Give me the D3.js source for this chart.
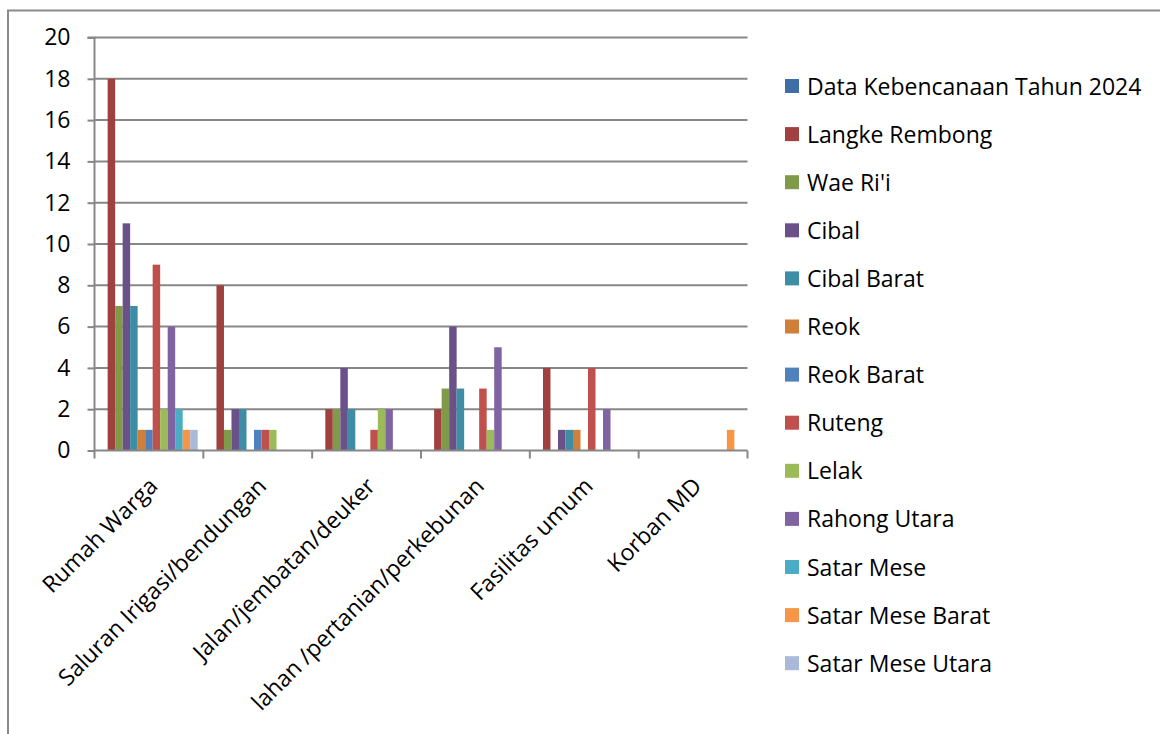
<!DOCTYPE html>
<html><head><meta charset="utf-8">
<script src="https://cdn.jsdelivr.net/npm/d3@7/dist/d3.min.js"></script>
<style>
html,body{margin:0;padding:0;background:#fff;overflow:hidden;}
text{font-family:"Open Sans","Noto Sans",sans-serif;fill:#000;}
</style></head><body>
<svg id="c" width="1160" height="734"></svg>
<script>
const categories = ["Rumah Warga","Saluran Irigasi/bendungan","Jalan/jembatan/deuker","lahan /pertanian/perkebunan","Fasilitas umum","Korban MD"];
const seriesNames = ["Data Kebencanaan Tahun 2024","Langke Rembong","Wae Ri'i","Cibal","Cibal Barat","Reok","Reok Barat","Ruteng","Lelak","Rahong Utara","Satar Mese","Satar Mese Barat","Satar Mese Utara"];
const seriesColors = ["#3F6EA6","#A0413F","#7F9B4A","#6A5189","#3D8EA5","#D07F3A","#4F81BD","#C0504D","#9BBB59","#8064A2","#4BACC6","#F79646","#A9B9D9"];
// values per series, in category order
const dataKebencanaan = [0,0,0,0,0,0];
const langkeRembong   = [18,8,2,2,4,0];
const waeRii          = [7,1,2,3,0,0];
const cibal           = [11,2,4,6,1,0];
const cibalBarat      = [7,2,2,3,1,0];
const reok            = [1,0,0,0,1,0];
const reokBarat       = [1,1,0,0,0,0];
const ruteng          = [9,1,1,3,4,0];
const lelak           = [2,1,2,1,0,0];
const rahongUtara     = [6,0,2,5,2,0];
const satarMese       = [2,0,0,0,0,0];
const satarMeseBarat  = [1,0,0,0,0,1];
const satarMeseUtara  = [1,0,0,0,0,0];
const yTicks = [0,2,4,6,8,10,12,14,16,18,20];

const seriesValues = [dataKebencanaan,langkeRembong,waeRii,cibal,cibalBarat,reok,reokBarat,ruteng,lelak,rahongUtara,satarMese,satarMeseBarat,satarMeseUtara];

(function(){
const svg = d3.select("#c");
const gridColor = "#878787";
const FS = 23;

svg.append("rect").attr("x",8).attr("y",10.5).attr("width",1200).attr("height",800)
  .attr("fill","none").attr("stroke","#8a8a8a").attr("stroke-width",2);

const pL = 94.5, pR = 747.5, pT = 37.5, pB = 450.5;
const x = d3.scaleBand().domain(categories).range([pL,pR]).padding(0);
const bw = x.bandwidth()/14.5;
const xs = d3.scaleBand().domain(seriesNames).range([0.75*bw, x.bandwidth()-0.75*bw]).padding(0);
const y = d3.scaleLinear().domain([0,20]).range([pB,pT]);

svg.append("g").selectAll("line").data(yTicks.filter(d=>d>0)).join("line")
  .attr("x1",pL).attr("x2",pR).attr("y1",d=>y(d)).attr("y2",d=>y(d))
  .attr("stroke",gridColor).attr("stroke-width",2);

const gs = svg.append("g").selectAll("g").data(seriesNames).join("g")
  .attr("fill",(d,i)=>seriesColors[i]);
gs.selectAll("rect").data((s,i)=>seriesValues[i].map((v,j)=>({s,v,c:categories[j]})))
  .join("rect")
  .attr("x",d=>x(d.c)+xs(d.s)).attr("width",xs.bandwidth())
  .attr("y",d=>y(d.v)).attr("height",d=>y(0)-y(d.v));

const yAxis = d3.axisLeft(y).tickValues(yTicks).tickSize(7).tickPadding(17);
const ya = svg.append("g").attr("transform",`translate(${pL},0)`).call(yAxis);
ya.select(".domain").attr("stroke",gridColor).attr("stroke-width",2).attr("d",`M-7,${pT}H0V${pB}`);
ya.selectAll(".tick line").attr("stroke",gridColor).attr("stroke-width",2);
ya.selectAll(".tick text").attr("font-size",FS).attr("font-family","'Open Sans',sans-serif").attr("fill","#000");

const xa = svg.append("g").attr("transform",`translate(0,${pB})`);
xa.append("line").attr("x1",pL).attr("x2",pR).attr("stroke",gridColor).attr("stroke-width",2);
xa.selectAll("line.t").data(categories.map(c=>x(c)).concat([pR])).join("line").attr("class","t")
  .attr("x1",d=>d).attr("x2",d=>d).attr("y1",0).attr("y2",8).attr("stroke",gridColor).attr("stroke-width",2);
xa.selectAll("text").data(categories).join("text")
  .attr("transform",d=>`translate(${x(d)+x.bandwidth()/2+10},${37}) rotate(-45)`)
  .attr("text-anchor","end").attr("font-size",FS).text(d=>d);

const lg = svg.append("g").selectAll("g").data(seriesNames).join("g")
  .attr("transform",(d,i)=>`translate(785,${86+i*48.1})`);
lg.append("rect").attr("x",0).attr("y",-7).attr("width",14).attr("height",14).attr("fill",(d,i)=>seriesColors[i]);
lg.append("text").attr("x",22).attr("y",8.5).attr("font-size",FS).text(d=>d);
})();
</script>
</body></html>
